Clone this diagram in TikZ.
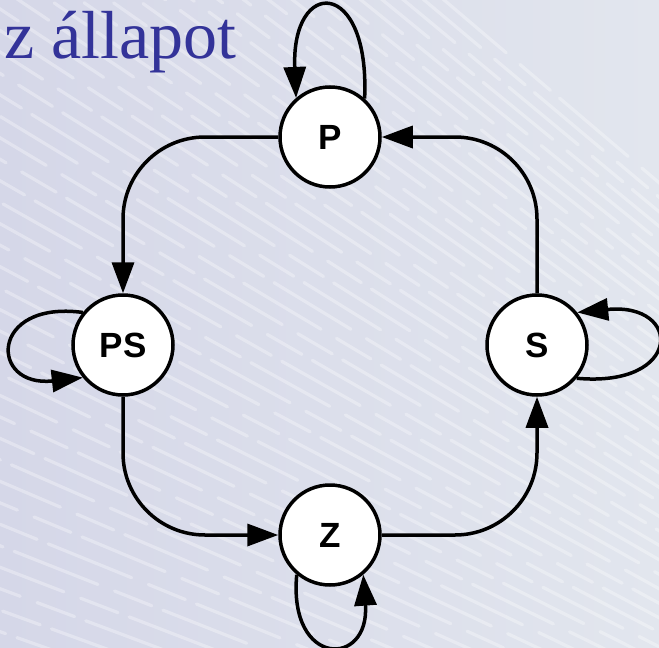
\documentclass[tikz,border=0pt]{standalone}
\usepackage{fontspec}
\setmainfont{Liberation Serif}
\newfontfamily\labelfont{Liberation Sans}
\usetikzlibrary{arrows.meta}
\definecolor{titleblue}{RGB}{51,51,153}
\definecolor{bgleft}{RGB}{213,215,232}
\definecolor{bgright}{RGB}{226,230,238}

\begin{document}
\begin{tikzpicture}[x=1pt,y=-1pt,
  state/.style={circle,draw,line width=3.5pt,fill=white,minimum size=100pt,
    inner sep=0pt,font=\labelfont\bfseries\fontsize{35}{35}\selectfont},
  trans/.style={line width=3.5pt,-{Triangle[length=31pt,width=22pt]}},
  corner/.style={rounded corners=82pt},
  streak/.style={white,line width=3.2pt,opacity=0.32,line cap=round,
    dash pattern=on 90pt off 18pt on 40pt off 12pt}
  ]
  % background panel with soft diagonal streaks
  \useasboundingbox (0,0) rectangle (659,648);
  \shade[left color=bgleft,right color=bgright] (0,0) rectangle (659,648);
  \begin{scope}
    \clip (0,0) rectangle (659,648);
    \foreach \k in {0,...,52}{
      \pgfmathsetmacro{\c}{-420+\k*22}
      \pgfmathsetmacro{\s}{0.85-0.55*\k/52}
      \pgfmathsetmacro{\ph}{mod(\k*37,150)}
      \draw[streak,dash phase=\ph pt] (-50,\c) -- (720,\c+\s*770);
    }
  \end{scope}

  % title
  \node[anchor=base east,inner sep=0pt,text=titleblue,
    font=\fontsize{68}{68}\selectfont] (title) at (237,58) {z állapot};

  % states
  \node[state] (P)  at (330,137) {P};
  \node[state] (PS) at (123,345) {PS};
  \node[state] (S)  at (537,345) {S};
  \node[state] (Z)  at (330,535) {Z};

  % transitions around the ring
  \draw[trans,corner] (P.west) -- (PS.north |- P.west) -- (PS.north);
  \draw[trans,corner] (PS.south) -- (PS.south |- Z.west) -- (Z.west);
  \draw[trans,corner] (Z.east) -- (S.south |- Z.east) -- (S.south);
  \draw[trans,corner] (S.north) -- (S.north |- P.east) -- (P.east);

  % self-loops
  \draw[trans] (P.48) .. controls (370,-23) and (291,-23) .. (P.131);
  \draw[trans] (PS.141) .. controls (-11,300) and (-11,388) .. (PS.219);
  \draw[trans] (S.320) .. controls (683,388) and (683,302) .. (S.39);
  \draw[trans] (Z.230) .. controls (288,668) and (370,668) .. (Z.310);
\end{tikzpicture}
\end{document}
